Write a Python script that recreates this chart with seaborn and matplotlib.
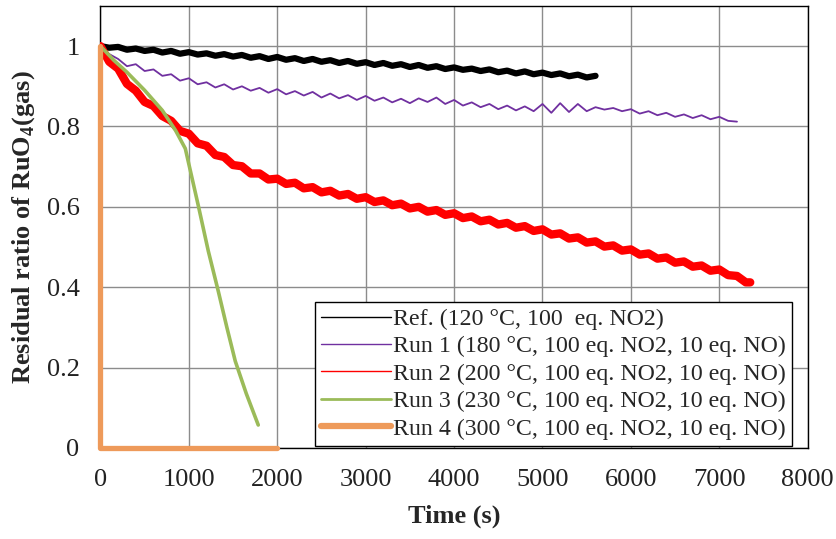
import matplotlib
matplotlib.use("Agg")
import matplotlib.pyplot as plt
import seaborn as sns

# ---------------- data ----------------
ref_t = list(range(0, 5700, 100))
ref_v = [1.000, 0.996, 0.998, 0.991, 0.994, 0.988, 0.991, 0.984, 0.988, 0.981,
         0.985, 0.979, 0.982, 0.976, 0.980, 0.974, 0.978, 0.971, 0.975, 0.968,
         0.973, 0.966, 0.970, 0.963, 0.968, 0.961, 0.965, 0.958, 0.963, 0.956,
         0.960, 0.953, 0.958, 0.951, 0.955, 0.948, 0.953, 0.946, 0.950, 0.943,
         0.947, 0.941, 0.944, 0.938, 0.942, 0.935, 0.939, 0.932, 0.937, 0.930,
         0.934, 0.928, 0.932, 0.925, 0.929, 0.922, 0.926]

run1_t = list(range(0, 7300, 100))
run1_v = [1.000, 0.980, 0.968, 0.950, 0.955, 0.938, 0.942, 0.926, 0.930, 0.914,
          0.920, 0.905, 0.910, 0.897, 0.905, 0.892, 0.900, 0.889, 0.896, 0.884,
          0.893, 0.880, 0.888, 0.877, 0.886, 0.872, 0.882, 0.870, 0.878, 0.866,
          0.876, 0.864, 0.872, 0.860, 0.869, 0.858, 0.870, 0.861, 0.872, 0.856,
          0.866, 0.852, 0.860, 0.848, 0.856, 0.843, 0.852, 0.840, 0.850, 0.838,
          0.856, 0.834, 0.858, 0.836, 0.856, 0.838, 0.848, 0.842, 0.846, 0.838,
          0.843, 0.832, 0.838, 0.828, 0.834, 0.824, 0.830, 0.821, 0.828, 0.818,
          0.824, 0.814, 0.812]

run2_t = list(range(0, 7400, 100)) + [7350]
run2_v = [1.000, 0.961, 0.944, 0.906, 0.889, 0.861, 0.851, 0.826, 0.814, 0.789,
          0.782, 0.758, 0.752, 0.729, 0.724, 0.704, 0.701, 0.683, 0.683, 0.668,
          0.670, 0.657, 0.660, 0.646, 0.649, 0.636, 0.640, 0.628, 0.632, 0.620,
          0.624, 0.612, 0.616, 0.604, 0.608, 0.596, 0.600, 0.588, 0.592, 0.580,
          0.584, 0.572, 0.576, 0.564, 0.568, 0.556, 0.560, 0.548, 0.552, 0.540,
          0.544, 0.531, 0.534, 0.521, 0.524, 0.511, 0.514, 0.501, 0.504, 0.491,
          0.494, 0.481, 0.484, 0.471, 0.474, 0.461, 0.464, 0.451, 0.454, 0.441,
          0.444, 0.430, 0.428, 0.412, 0.412]

run3_t = [0, 150, 300, 500, 700, 850, 960, 1110, 1220, 1333, 1430, 1525, 1650, 1785]
run3_v = [1.0, 0.965, 0.935, 0.89, 0.84, 0.79, 0.745, 0.60, 0.49, 0.39, 0.30,
          0.216, 0.135, 0.057]

run4_t = [0, 0, 2000]
run4_v = [1.0, 0.0, 0.0]

labels = ["Ref. (120 \u00b0C, 100  eq. NO2)",
          "Run 1 (180 \u00b0C, 100 eq. NO2, 10 eq. NO)",
          "Run 2 (200 \u00b0C, 100 eq. NO2, 10 eq. NO)",
          "Run 3 (230 \u00b0C, 100 eq. NO2, 10 eq. NO)",
          "Run 4 (300 \u00b0C, 100 eq. NO2, 10 eq. NO)"]

xticks = [0, 1000, 2000, 3000, 4000, 5000, 6000, 7000, 8000]
yticks = [0, 0.2, 0.4, 0.6, 0.8, 1.0]
ytick_labels = ["0", "0.2", "0.4", "0.6", "0.8", "1"]

# ---------------- style ----------------
sns.set_theme(style="white")
plt.rcParams["font.family"] = ["Liberation Serif", "DejaVu Serif"]
plt.rcParams["mathtext.fontset"] = "custom"
plt.rcParams["mathtext.rm"] = "Liberation Serif"
plt.rcParams["mathtext.bf"] = "Liberation Serif:bold"

fig = plt.figure(figsize=(8.37, 5.39), dpi=100)
ax = fig.add_axes([0.12, 0.169, 0.845, 0.820])

ORANGE = "#EE9A5A"
series = [
    (ref_t, ref_v, "black", 4.5, 1.0),
    (run1_t, run1_v, "#7030A0", 1.3, 1.0),
    (run2_t, run2_v, "#FF0000", 6.0, 1.0),
    (run3_t, run3_v, "#9BBB59", 2.6, 2.0),
    (run4_t, run4_v, ORANGE, 3.8, 4.5),
]
handles = []
for (t, v, c, lw, leg_lw), lab in zip(series, labels):
    sns.lineplot(x=t, y=v, estimator=None, sort=False, color=c, linewidth=lw,
                 ax=ax, legend=False, clip_on=(c != ORANGE), zorder=3)
    h, = ax.plot([], [], color=c, linewidth=leg_lw, label=lab)
    handles.append(h)

ax.set_xlim(0, 8000)
ax.set_ylim(0, 1.1)
ax.set_xticks(xticks)
ax.set_xticklabels([str(x) for x in xticks])
ax.set_yticks(yticks)
ax.set_yticklabels(ytick_labels)
ax.tick_params(axis="both", length=0, labelsize=19, colors="#222222")
ax.tick_params(axis="x", pad=15)
ax.tick_params(axis="y", pad=15)
ax.grid(True, color="#8c8c8c", linewidth=1.0, zorder=0)
ax.set_axisbelow(True)
for sp in ax.spines.values():
    sp.set_color("black")
    sp.set_linewidth(1.0)
    sp.set_visible(True)

ax.set_xlabel("Time (s)", fontsize=19, fontweight="bold", labelpad=10)
ax.set_ylabel(r"Residual ratio of RuO$_\mathbf{4}$(gas)", fontsize=19,
              fontweight="bold", labelpad=7)

leg = ax.legend(handles=handles, loc="lower right", bbox_to_anchor=(0.9775, 0.005),
                borderaxespad=0, fontsize=17.2, frameon=True, fancybox=False,
                framealpha=1, edgecolor="black", handlelength=2.9,
                handletextpad=0.1, labelspacing=0.24, borderpad=0.25)
leg.get_frame().set_linewidth(1.0)
leg.set_zorder(5)

fig.savefig("out.png", dpi=100)
